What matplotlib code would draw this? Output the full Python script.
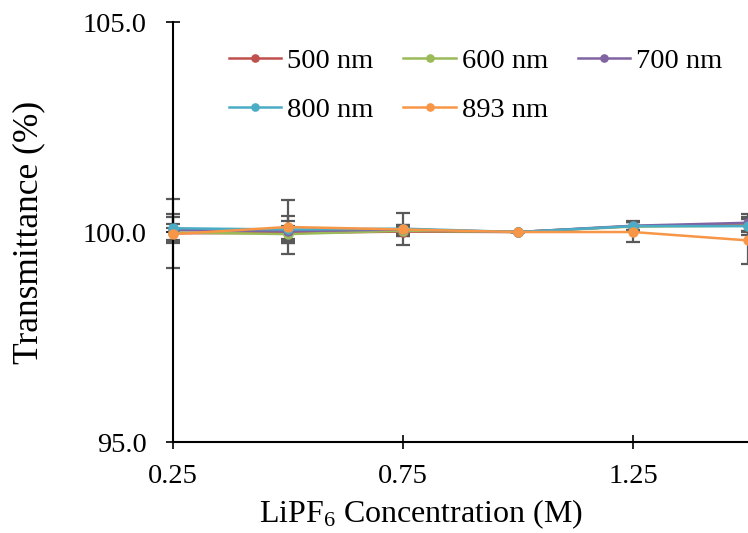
import matplotlib.pyplot as plt

plt.rcParams['font.family'] = ['Liberation Serif', 'DejaVu Serif']
plt.rcParams['mathtext.fontset'] = 'custom'
plt.rcParams['mathtext.rm'] = 'Liberation Serif'
plt.rcParams['mathtext.it'] = 'Liberation Serif:italic'

# LiPF6 concentration (M)
conc = [0.25, 0.5, 0.75, 1.0, 1.25, 1.5]

labels = ["500 nm", "600 nm", "700 nm", "800 nm", "893 nm"]
colors = ["#C0504D", "#9BBB59", "#8064A2", "#4BACC6", "#F79646"]

t500 = [99.97, 99.98, 100.01, 100.0, 100.14, 100.17]
t600 = [99.99, 99.95, 100.03, 100.0, 100.13, 100.15]
t700 = [100.05, 100.02, 100.06, 100.0, 100.15, 100.22]
t800 = [100.09, 100.06, 100.08, 100.0, 100.14, 100.14]
t893 = [99.95, 100.12, 100.06, 100.0, 100.0, 99.8]

e500 = [0.82, 0.15, 0.1, 0.0, 0.1, 0.15]
e600 = [0.2, 0.2, 0.12, 0.0, 0.1, 0.15]
e700 = [0.3, 0.24, 0.1, 0.0, 0.1, 0.2]
e800 = [0.33, 0.33, 0.38, 0.0, 0.12, 0.2]
e893 = [0.15, 0.65, 0.1, 0.0, 0.24, 0.55]

series = [t500, t600, t700, t800, t893]
errors = [e500, e600, e700, e800, e893]

fig = plt.figure(figsize=(7.48, 5.33), dpi=100)
ax = fig.add_axes([0.2313, 0.1707, 0.7687, 0.788])

for vals, errs in zip(series, errors):
    ax.errorbar(conc, vals, yerr=errs, fmt='none', ecolor='#595959',
                elinewidth=1.6, capsize=5, capthick=1.6, zorder=1, clip_on=False)

handles = []
for vals, lab, col in zip(series, labels, colors):
    h, = ax.plot(conc, vals, color=col, lw=1.8, marker='o', markersize=6.5,
                 label=lab, zorder=3, clip_on=False)
    handles.append(h)

ax.set_xlim(0.25, 1.5)
ax.set_ylim(95, 105)
ax.set_xticks([0.25, 0.75, 1.25])
ax.set_xticklabels(["0.25", "0.75", "1.25"])
ax.set_yticks([95, 100, 105])
ax.set_yticklabels(["95.0", "100.0", "105.0"])

for s in ['top', 'right']:
    ax.spines[s].set_visible(False)
for s in ['left', 'bottom']:
    ax.spines[s].set_linewidth(1.5)
ax.tick_params(direction='inout', length=10, width=1.2, labelsize=20.5)
ax.tick_params(axis='x', pad=11)
ax.tick_params(axis='y', pad=14)

ax.set_xlabel("LiPF$_\\mathrm{6}$ Concentration (M)", fontsize=23)
ax.set_ylabel("Transmittance (%)", fontsize=25.5)
# the chart area runs past the right edge, so the x label sits left of centre
ax.xaxis.set_label_coords(0.431, -0.133)
ax.yaxis.set_label_coords(-0.222, 0.5)

# row-major order: 500 600 700 / 800 893
order = [0, 3, 1, 4, 2]
ax.legend([handles[i] for i in order], [labels[i] for i in order],
          ncol=3, loc='upper left', bbox_to_anchor=(0.052, 1.0), frameon=False,
          fontsize=20.5, handlelength=1.85, handletextpad=0.2, columnspacing=1.05,
          labelspacing=0.82, markerscale=0.8)

fig.savefig("out.png", dpi=100)
